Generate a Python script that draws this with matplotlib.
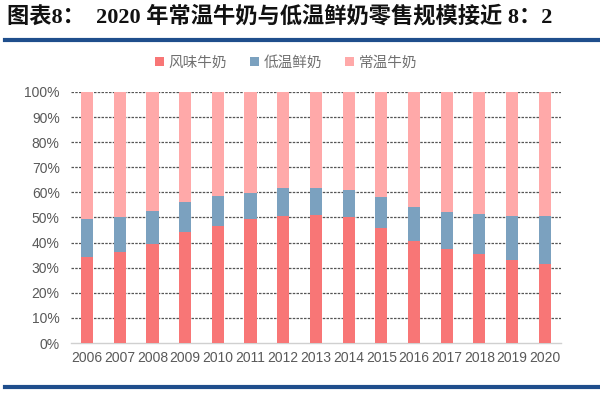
import matplotlib
matplotlib.use("Agg")
import matplotlib.pyplot as plt
import numpy as np
from matplotlib.lines import Line2D

plt.rcParams['font.family'] = ['Liberation Sans', 'Noto Sans CJK SC', 'DejaVu Sans']

years = ['2006', '2007', '2008', '2009', '2010', '2011', '2012', '2013',
         '2014', '2015', '2016', '2017', '2018', '2019', '2020']
flavored = [34.4, 36.3, 39.3, 44.1, 46.7, 49.3, 50.7, 51.1, 50.1, 45.9, 40.6, 37.6, 35.3, 32.9, 31.5]
cumulative_low = [49.3, 50.1, 52.6, 56.3, 58.6, 59.9, 61.6, 61.9, 61.0, 58.0, 54.1, 52.2, 51.3, 50.5, 50.5]
low_temp = [c - f for c, f in zip(cumulative_low, flavored)]
ambient = [100 - c for c in cumulative_low]
series_names = ['风味牛奶', '低温鲜奶', '常温牛奶']
colors = ['#F87676', '#7BA1BF', '#FFA9A9']

fig = plt.figure(figsize=(6.0, 3.93), dpi=100)
ax = fig.add_axes([0.118, 0.1272, 0.817, 0.6388])

x = np.arange(len(years))
w = 0.37
ax.bar(x, flavored, w, color=colors[0], label=series_names[0], zorder=3)
ax.bar(x, low_temp, w, bottom=flavored, color=colors[1], label=series_names[1], zorder=3)
ax.bar(x, ambient, w, bottom=cumulative_low, color=colors[2], label=series_names[2], zorder=3)

ax.set_xlim(-0.5, len(years) - 0.5)
ax.set_ylim(0, 100)
ax.set_yticks(np.arange(0, 101, 10))
ax.set_yticklabels([f'{v}%' for v in range(0, 101, 10)])
ax.set_xticks(x)
ax.set_xticklabels(years)
ax.tick_params(axis='both', length=0, labelsize=10, colors='#595959')
ax.tick_params(axis='y', pad=8)
ax.tick_params(axis='x', pad=6)
for t in ax.get_xticklabels() + ax.get_yticklabels():
    t.set_color('#595959')

for v in range(10, 101, 10):
    ax.axhline(v, color='#555555', lw=0.9, ls=(0, (2, 1)), zorder=1)

for s in ['top', 'right', 'left']:
    ax.spines[s].set_visible(False)
ax.spines['bottom'].set_color('#D0D0D0')
ax.spines['bottom'].set_linewidth(1.0)

leg = fig.legend(loc='center', bbox_to_anchor=(0.477, 0.84), ncol=3, frameon=False,
                 handlelength=0.6, handleheight=0.6, handletextpad=0.3,
                 columnspacing=1.6, prop={'family': ['Noto Sans CJK SC'], 'size': 10.5})
for t in leg.get_texts():
    t.set_color('#707070')

fig.text(0.012, 0.957, '图表8：  2020 年常温牛奶与低温鲜奶零售规模接近 8：2',
         fontsize=16, fontweight='bold', va='center', ha='left',
         family=['Liberation Serif', 'Noto Sans CJK SC', 'DejaVu Sans'], color='#111111')

fig.add_artist(Line2D([0.008, 1.0], [0.898, 0.898], color='#1F4E8C', lw=3, transform=fig.transFigure))
fig.add_artist(Line2D([0.008, 1.0], [0.015, 0.015], color='#1F4E8C', lw=3, transform=fig.transFigure))

fig.savefig('out.png', dpi=100)
